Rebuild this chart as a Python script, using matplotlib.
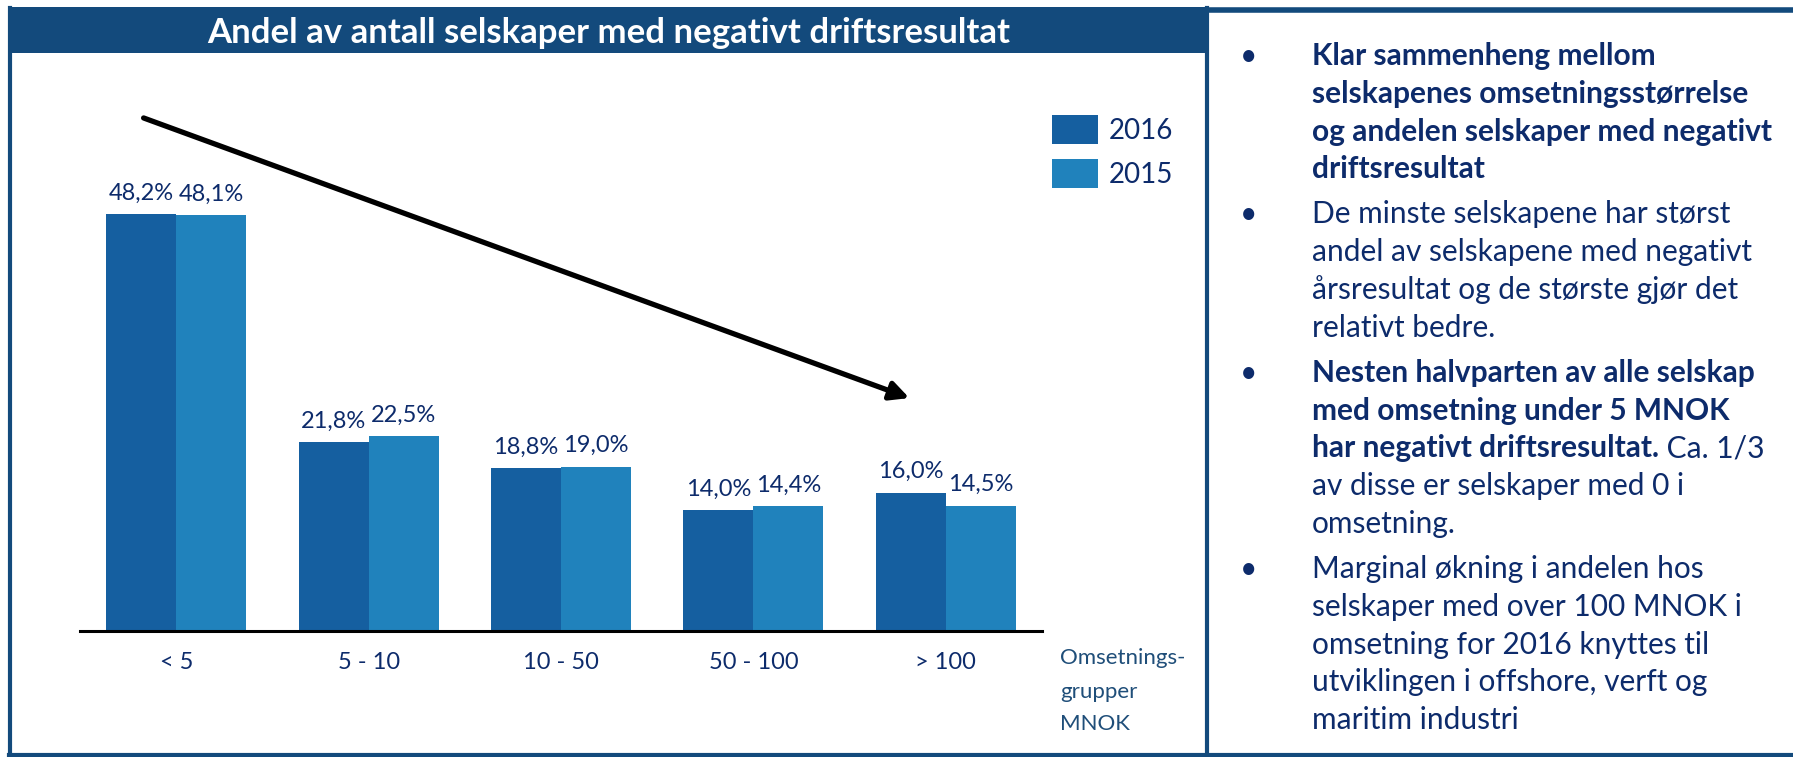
import matplotlib
matplotlib.use("Agg")
import matplotlib.pyplot as plt
from matplotlib.patches import Rectangle
import numpy as np

plt.rcParams['font.family'] = ['Lato', 'DejaVu Sans']

# ---- data ----
categories = ['< 5', '5 - 10', '10 - 50', '50 - 100', '> 100']
years = ['2016', '2015']
vals_2016 = [48.2, 21.8, 18.8, 14.0, 16.0]
vals_2015 = [48.1, 22.5, 19.0, 14.4, 14.5]

title = 'Andel av antall selskaper med negativt driftsresultat'
axis_note = ['Omsetnings-', 'grupper', 'MNOK']

bullets = [
    [("Klar sammenheng mellom", "bold"),
     ("selskapenes omsetningsstørrelse", "bold"),
     ("og andelen selskaper med negativt", "bold"),
     ("driftsresultat", "bold")],
    [("De minste selskapene har størst", "normal"),
     ("andel av selskapene med negativt", "normal"),
     ("årsresultat og de største gjør det", "normal"),
     ("relativt bedre.", "normal")],
    [("Nesten halvparten av alle selskap", "bold"),
     ("med omsetning under 5 MNOK", "bold"),
     [("har negativt driftsresultat.", "bold"), (" Ca. 1/3", "normal")],
     ("av disse er selskaper med 0 i", "normal"),
     ("omsetning.", "normal")],
    [("Marginal økning i andelen hos", "normal"),
     ("selskaper med over 100 MNOK i", "normal"),
     ("omsetning for 2016 knyttes til", "normal"),
     ("utviklingen i offshore, verft og", "normal"),
     ("maritim industri", "normal")],
]

# ---- style ----
W, H = 1793, 757
C2016 = '#155FA0'
C2015 = '#2082BC'
FRAME = '#134A7C'
NAVY = '#0D2B6B'
NOTE = '#1F4E79'

fig = plt.figure(figsize=(W / 100, H / 100), dpi=100)

def fx(px):
    return px / W

def fy(py):
    return 1 - py / H

# frame & title bar
fig.patches.append(Rectangle((fx(9), fy(53)), fx(1207) - fx(9), fy(7) - fy(53),
                             transform=fig.transFigure, facecolor=FRAME, edgecolor='none', zorder=0))
lw = 3.0
fig.add_artist(plt.Line2D([fx(10), fx(10)], [fy(8), fy(755)], color=FRAME, lw=lw))
fig.add_artist(plt.Line2D([fx(9), fx(1793)], [fy(755), fy(755)], color=FRAME, lw=lw))
fig.add_artist(plt.Line2D([fx(1207), fx(1793)], [fy(10), fy(10)], color=FRAME, lw=4))
fig.add_artist(plt.Line2D([fx(1207), fx(1207)], [fy(8), fy(755)], color=FRAME, lw=lw))

fig.text(fx(609), fy(43), title, color='white', fontsize=25, fontweight='bold',
         ha='center', va='baseline')

# ---- bar chart ----
ax = fig.add_axes([fx(80), fy(631), fx(1042) - fx(80), fy(112) - fy(631)])
x = np.arange(len(categories))
bw = 0.364
b1 = ax.bar(x - bw / 2, vals_2016, bw, color=C2016, label=years[0])
b2 = ax.bar(x + bw / 2, vals_2015, bw, color=C2015, label=years[1])
ax.set_xlim(-0.5, len(categories) - 0.5)
ax.set_ylim(0, 60)
for s in ['top', 'right', 'left']:
    ax.spines[s].set_visible(False)
ax.spines['bottom'].set_linewidth(2.2)
ax.spines['bottom'].set_color('black')
ax.set_yticks([])
ax.set_xticks(x, categories)
ax.tick_params(axis='x', length=0, pad=15, labelsize=17, labelcolor=NAVY)

def fmt(v):
    return f"{v:.1f}".replace('.', ',') + '%'

for bars, vals in [(b1, vals_2016), (b2, vals_2015)]:
    for r, v in zip(bars, vals):
        ax.annotate(fmt(v), (r.get_x() + r.get_width() / 2, v), xytext=(0, 15),
                    textcoords='offset points', ha='center', va='center',
                    fontsize=17, color=NAVY)

leg = fig.legend(handles=[b1, b2], labels=years, loc='upper left',
                 bbox_to_anchor=(fx(1052), fy(115)), bbox_transform=fig.transFigure,
                 frameon=False, fontsize=20, handlelength=1.65, handleheight=1.22,
                 handletextpad=0.4, labelspacing=0.54, borderpad=0, borderaxespad=0)
for t in leg.get_texts():
    t.set_color(NAVY)

for yy, s in zip([658, 692, 724], axis_note):
    fig.text(fx(1060), fy(yy), s, fontsize=16, color=NOTE, ha='left', va='center')

# arrow (decoration)
fig.add_artist(matplotlib.patches.FancyArrowPatch(
    (fx(141), fy(117)), (fx(912), fy(399)), transform=fig.transFigure,
    arrowstyle='-|>', mutation_scale=28, lw=3.8, color='black'))

# ---- right text panel ----
renderer = fig.canvas.get_renderer()
TX = 1312
BX = 1240
FS = 21.5
y = 65
step = 37.8
gap = 7.2
for bi, block in enumerate(bullets):
    fig.text(fx(BX), fy(y), '•', fontsize=FS, color=NAVY, ha='left', va='baseline')
    for line in block:
        if isinstance(line, list):
            xpos = fx(TX)
            for seg, wgt in line:
                t = fig.text(xpos, fy(y), seg, fontsize=FS, fontweight=wgt, color=NAVY,
                             ha='left', va='baseline')
                bb = t.get_window_extent(renderer=renderer)
                xpos = bb.x1 / W
        else:
            seg, wgt = line
            fig.text(fx(TX), fy(y), seg, fontsize=FS, fontweight=wgt, color=NAVY,
                     ha='left', va='baseline')
        y += step
    y += gap

fig.savefig('out.png', dpi=100)
